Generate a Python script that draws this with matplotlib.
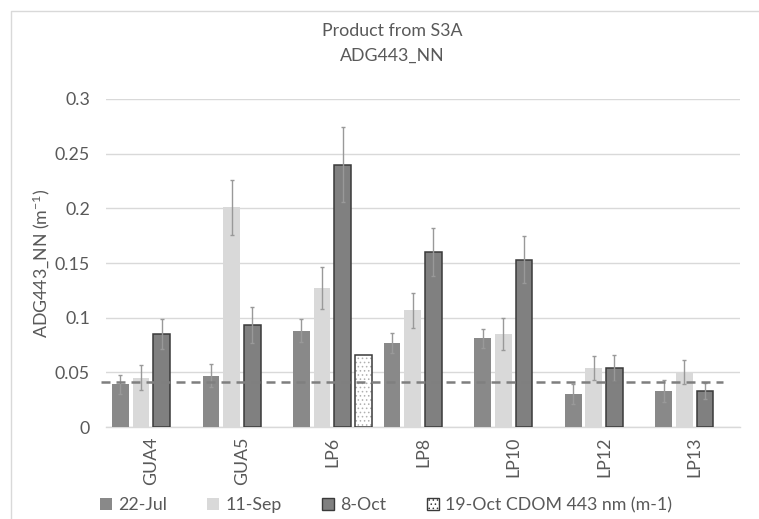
import numpy as np
import matplotlib
matplotlib.use("Agg")
import matplotlib.pyplot as plt
from matplotlib.patches import Patch
from matplotlib.lines import Line2D

plt.rcParams['font.family'] = ['Lato', 'DejaVu Sans']
plt.rcParams['mathtext.default'] = 'regular'
plt.rcParams['hatch.linewidth'] = 0.6

# ---- data ----
categories = ['GUA4', 'GUA5', 'LP6', 'LP8', 'LP10', 'LP12', 'LP13']
jul = [0.039, 0.047, 0.088, 0.077, 0.081, 0.030, 0.033]
jul_err = [0.009, 0.0105, 0.0105, 0.009, 0.009, 0.009, 0.010]
sep = [0.045, 0.201, 0.127, 0.107, 0.085, 0.054, 0.050]
sep_err = [0.0115, 0.025, 0.019, 0.016, 0.0145, 0.011, 0.011]
octb = [0.085, 0.093, 0.240, 0.160, 0.153, 0.054, 0.033]
oct_err = [0.0135, 0.0165, 0.0345, 0.022, 0.0215, 0.012, 0.007]
cdom = [np.nan, np.nan, 0.066, np.nan, np.nan, np.nan, np.nan]
threshold = 0.041
threshold_span = (-0.56, 6.31)
yticks = [0, 0.05, 0.1, 0.15, 0.2, 0.25, 0.3]
ytick_labels = ['0', '0.05', '0.1', '0.15', '0.2', '0.25', '0.3']
series_names = ['22-Jul', '11-Sep', '8-Oct', '19-Oct CDOM 443 nm (m-1)']

W, H = 759, 519
fig = plt.figure(figsize=(W / 100, H / 100), dpi=100)
ax = fig.add_axes([106 / W, (H - 427) / H, (740 - 106) / W, (427 - 99) / H])

txt = '#595959'
grid = '#d9d9d9'
fs = 12.8

x = np.arange(len(categories))
step = 0.228
bw = 0.185
ekw = dict(ecolor='#999999', elinewidth=1.0, capsize=1.6, capthick=1.0)

ax.bar(x - 1.5 * step, jul, bw, color='#898989', yerr=jul_err, error_kw=ekw, zorder=3)
ax.bar(x - 0.5 * step, sep, bw, color='#d9d9d9', yerr=sep_err, error_kw=ekw, zorder=3)
ax.bar(x + 0.5 * step, octb, bw, color='#808080', edgecolor='#3a3a3a', linewidth=1.1,
       yerr=oct_err, error_kw=ekw, zorder=3)
ax.bar(x + 1.5 * step, cdom, bw, color='white', edgecolor='#b0b0b0', hatch='....',
       linewidth=0, zorder=3)
ax.bar(x + 1.5 * step, cdom, bw, color='none', edgecolor='#3a3a3a', linewidth=1.1, zorder=3)

ax.plot(threshold_span, [threshold, threshold], color='#7f7f7f', lw=1.8,
        linestyle=(0, (3.6, 2.4)), zorder=4, clip_on=False)

ax.set_xlim(-0.5, len(categories) - 0.5)
ax.set_ylim(0, 0.3)
ax.set_yticks(yticks)
ax.set_yticklabels(ytick_labels)
ax.set_xticks(x)
ax.set_xticklabels(categories, rotation=90)
ax.tick_params(axis='both', length=0, labelsize=fs, labelcolor=txt)
ax.tick_params(axis='y', pad=11.5)
ax.tick_params(axis='x', pad=7)
ax.yaxis.grid(True, color=grid, lw=1.0, zorder=0)
ax.set_axisbelow(True)
for s in ['top', 'right', 'left']:
    ax.spines[s].set_visible(False)
ax.spines['bottom'].set_color(grid)
ax.spines['bottom'].set_linewidth(1.0)

fig.text(41 / W, 1 - 263 / H, 'ADG443_NN (m$^{-1}$)', rotation=90, ha='center',
         va='center', fontsize=fs, color=txt)
fig.text(392 / W, 1 - 31 / H, 'Product from S3A', ha='center', va='center',
         fontsize=fs, color=txt)
fig.text(392 / W, 1 - 56 / H, 'ADG443_NN', ha='center', va='center',
         fontsize=fs, color=txt)

# chart-area border
fig.add_artist(Line2D([11 / W, 11 / W, 1], [0, 1 - 11 / H, 1 - 11 / H],
                      transform=fig.transFigure, color='#d9d9d9', lw=1.0))

handles = [Patch(facecolor='#898989'),
           Patch(facecolor='#d9d9d9'),
           Patch(facecolor='#808080', edgecolor='#3a3a3a', linewidth=1.0),
           Patch(facecolor='white', edgecolor='#3a3a3a', hatch='....', linewidth=1.0)]
leg = fig.legend(handles, series_names, loc='center left', ncol=4,
                 bbox_to_anchor=(100 / W, 14 / H), bbox_transform=fig.transFigure,
                 frameon=False, fontsize=fs, handlelength=0.68, handleheight=0.68,
                 handletextpad=0.34, columnspacing=2.27, borderpad=0, borderaxespad=0)
for t in leg.get_texts():
    t.set_color(txt)

fig.savefig('out.png', dpi=100, facecolor='white')
